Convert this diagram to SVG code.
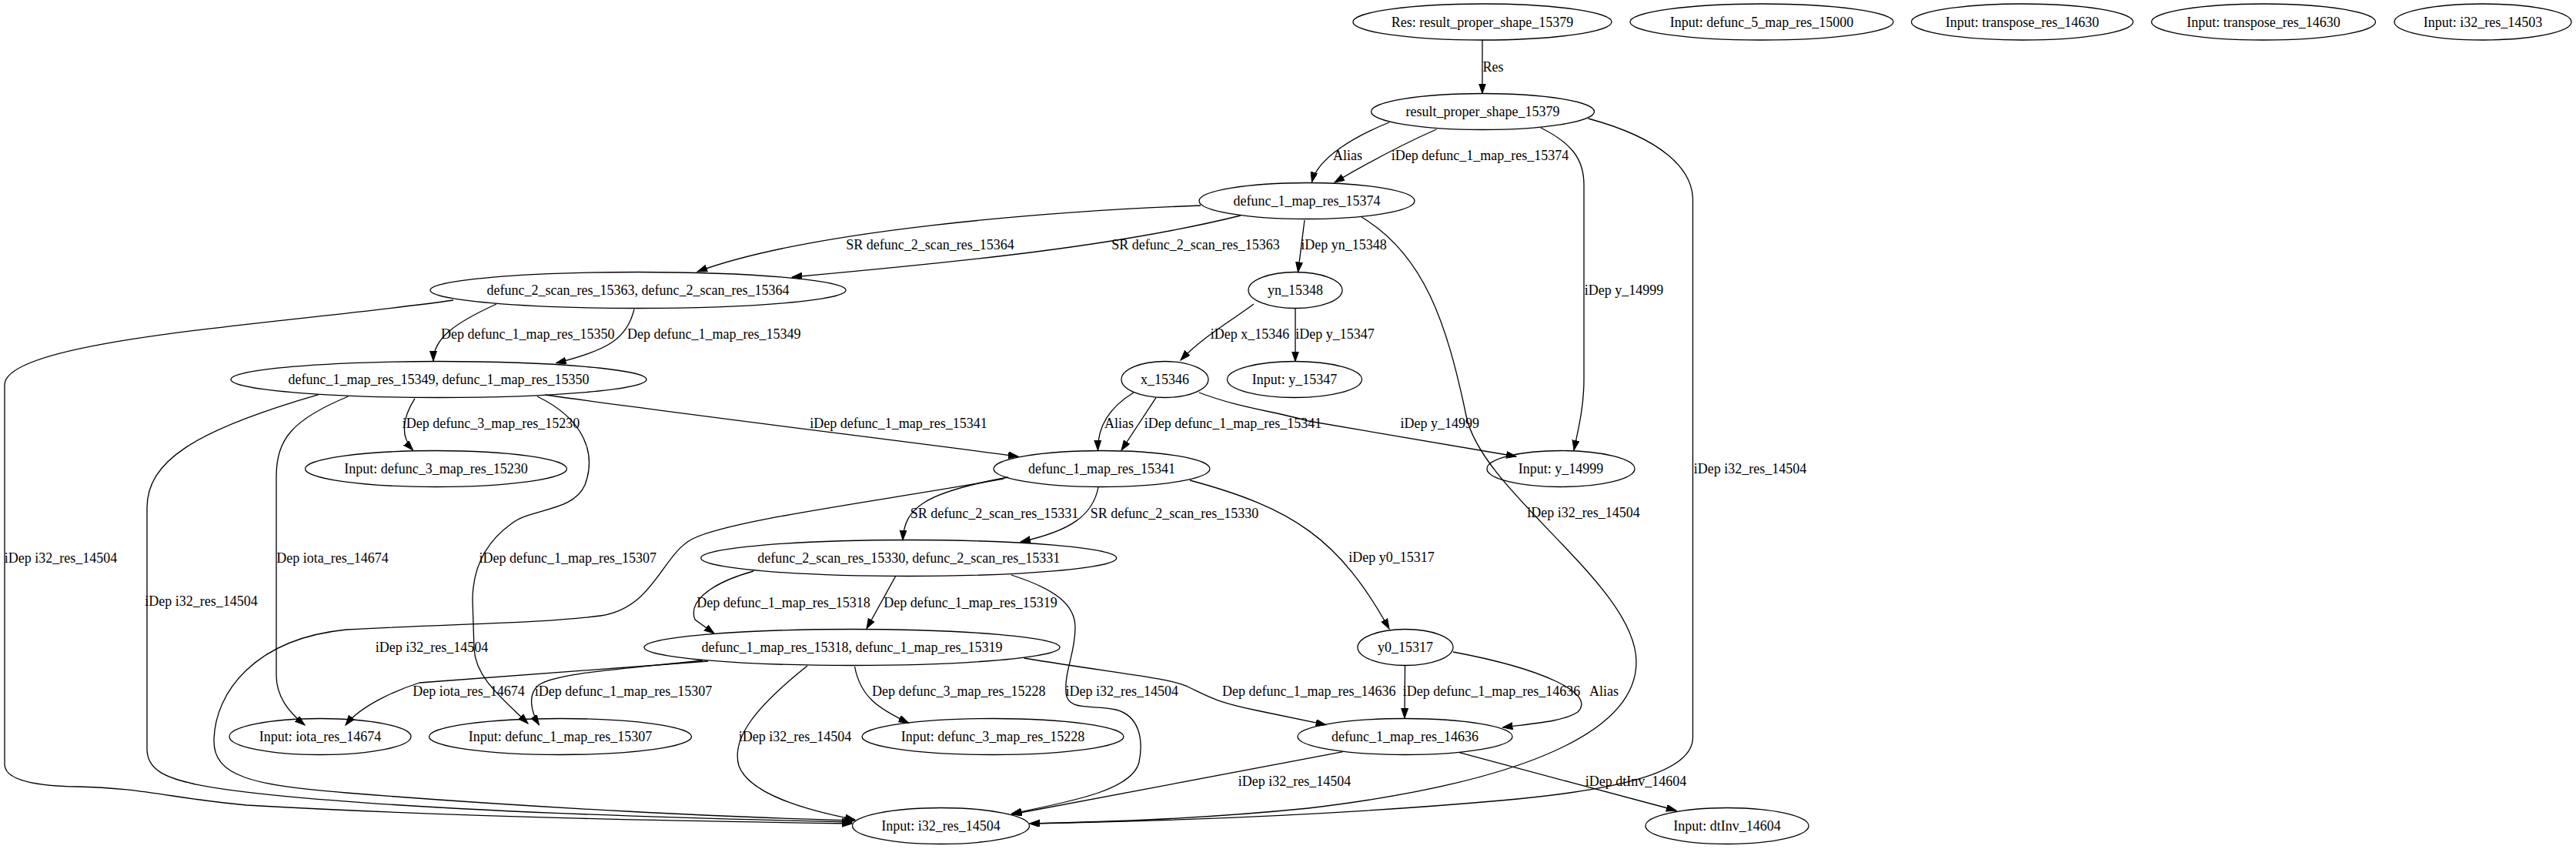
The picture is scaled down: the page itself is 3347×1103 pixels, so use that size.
<svg xmlns="http://www.w3.org/2000/svg" width="3347" height="1103" viewBox="0 0 3347 1103">
<style>
text{font-family:"Liberation Serif","Times New Roman",serif;font-size:18px;fill:#000;text-anchor:middle}
.node ellipse{fill:none;stroke:#000;stroke-width:1.3}
.edge path{fill:none;stroke:#000;stroke-width:1.3;marker-end:url(#ah)}
</style>
<defs>
<marker id="ah" markerWidth="14" markerHeight="10" refX="13" refY="4.5" orient="auto" markerUnits="userSpaceOnUse"><path d="M0,0 L13,4.5 L0,9 z" fill="#000" stroke="#000" stroke-width="1"/></marker>
</defs>
<rect width="3347" height="1103" fill="#fff"/>
<g id="nodes">
<g id="n_res" class="node"><ellipse cx="1926" cy="28.5" rx="168" ry="23.5"/><text x="1926" y="34.5">Res: result_proper_shape_15379</text></g>
<g id="n_in15000" class="node"><ellipse cx="2289" cy="28.5" rx="171" ry="23.5"/><text x="2289" y="34.5">Input: defunc_5_map_res_15000</text></g>
<g id="n_tr1" class="node"><ellipse cx="2627.5" cy="28.5" rx="144" ry="23.5"/><text x="2627.5" y="34.5">Input: transpose_res_14630</text></g>
<g id="n_tr2" class="node"><ellipse cx="2941" cy="28.5" rx="145.5" ry="23.5"/><text x="2941" y="34.5">Input: transpose_res_14630</text></g>
<g id="n_i32_503" class="node"><ellipse cx="3226" cy="28.5" rx="115" ry="23.5"/><text x="3226" y="34.5">Input: i32_res_14503</text></g>
<g id="n_rps" class="node"><ellipse cx="1926.5" cy="145" rx="145" ry="23.5"/><text x="1926.5" y="151">result_proper_shape_15379</text></g>
<g id="n_d15374" class="node"><ellipse cx="1698" cy="261" rx="140" ry="23.5"/><text x="1698" y="267">defunc_1_map_res_15374</text></g>
<g id="n_scan15363" class="node"><ellipse cx="829" cy="377" rx="270" ry="23.5"/><text x="829" y="383">defunc_2_scan_res_15363, defunc_2_scan_res_15364</text></g>
<g id="n_yn" class="node"><ellipse cx="1683" cy="377" rx="61" ry="23.5"/><text x="1683" y="383">yn_15348</text></g>
<g id="n_x" class="node"><ellipse cx="1513.5" cy="493" rx="56.5" ry="23.5"/><text x="1513.5" y="499">x_15346</text></g>
<g id="n_y15347" class="node"><ellipse cx="1682" cy="493" rx="87.5" ry="23.5"/><text x="1682" y="499">Input: y_15347</text></g>
<g id="n_d15349" class="node"><ellipse cx="570" cy="493" rx="270" ry="23.5"/><text x="570" y="499">defunc_1_map_res_15349, defunc_1_map_res_15350</text></g>
<g id="n_in15230" class="node"><ellipse cx="566.5" cy="609" rx="170" ry="23.5"/><text x="566.5" y="615">Input: defunc_3_map_res_15230</text></g>
<g id="n_d15341" class="node"><ellipse cx="1431.5" cy="609" rx="140.5" ry="23.5"/><text x="1431.5" y="615">defunc_1_map_res_15341</text></g>
<g id="n_y14999" class="node"><ellipse cx="2028" cy="609" rx="96" ry="23.5"/><text x="2028" y="615">Input: y_14999</text></g>
<g id="n_scan15330" class="node"><ellipse cx="1180.7" cy="725" rx="270" ry="23.5"/><text x="1180.7" y="731">defunc_2_scan_res_15330, defunc_2_scan_res_15331</text></g>
<g id="n_d15318" class="node"><ellipse cx="1107" cy="841" rx="270" ry="23.5"/><text x="1107" y="847">defunc_1_map_res_15318, defunc_1_map_res_15319</text></g>
<g id="n_y0" class="node"><ellipse cx="1826" cy="841" rx="62" ry="23.5"/><text x="1826" y="847">y0_15317</text></g>
<g id="n_iota" class="node"><ellipse cx="416" cy="957" rx="118" ry="23.5"/><text x="416" y="963">Input: iota_res_14674</text></g>
<g id="n_in15307" class="node"><ellipse cx="728" cy="957" rx="170.5" ry="23.5"/><text x="728" y="963">Input: defunc_1_map_res_15307</text></g>
<g id="n_in15228" class="node"><ellipse cx="1290" cy="957" rx="170" ry="23.5"/><text x="1290" y="963">Input: defunc_3_map_res_15228</text></g>
<g id="n_d14636" class="node"><ellipse cx="1825.5" cy="957" rx="139.5" ry="23.5"/><text x="1825.5" y="963">defunc_1_map_res_14636</text></g>
<g id="n_i32" class="node"><ellipse cx="1222.5" cy="1073" rx="115" ry="23.5"/><text x="1222.5" y="1079">Input: i32_res_14504</text></g>
<g id="n_dtinv" class="node"><ellipse cx="2244" cy="1073" rx="106" ry="23.5"/><text x="2244" y="1079">Input: dtInv_14604</text></g>
</g>
<g id="edges">
<g class="edge"><path d="M1926,52 L1926,121.5"/><text x="1940" y="93">Res</text></g>
<g class="edge"><path d="M1805,159 C1760,177 1712,205 1704.5,236.5"/><text x="1751" y="208">Alias</text></g>
<g class="edge"><path d="M1866.5,168 C1830,184 1790,204 1734,237"/><text x="1923" y="208">iDep defunc_1_map_res_15374</text></g>
<g class="edge"><path d="M2002,166 C2040,185 2058,205 2058,240 L2058,493 C2058,530 2050,560 2045,585"/><text x="2110" y="383">iDep y_14999</text></g>
<g class="edge"><path d="M2063.6,154 C2160,180 2199.5,220 2199.5,260 L2199.5,958 C2199.5,1000 2120,1025 1950,1040 C1700,1062 1450,1068 1338,1070"/><text x="2274" y="614.5">iDep i32_res_14504</text></g>
<g class="edge"><path d="M1560,267 C1350,275 1050,300 906,353"/><text x="1208.5" y="324">SR defunc_2_scan_res_15364</text></g>
<g class="edge"><path d="M1612,280 C1450,320 1250,340 1029,360"/><text x="1553.5" y="324">SR defunc_2_scan_res_15363</text></g>
<g class="edge"><path d="M1695,286 L1686.5,353.5"/><text x="1746" y="324">iDep yn_15348</text></g>
<g class="edge"><path d="M1769,282 C1850,330 1880,420 1905,540 C1925,640 2126,760 2126,860 C2126,960 1950,1020 1700,1050 C1550,1065 1420,1068 1338,1070"/><text x="2057.5" y="672">iDep i32_res_14504</text></g>
<g class="edge"><path d="M1629,395 C1595,420 1560,440 1534,468"/><text x="1624" y="440">iDep x_15346</text></g>
<g class="edge"><path d="M1683,400.5 L1683,469.5"/><text x="1734.5" y="440">iDep y_15347</text></g>
<g class="edge"><path d="M645,395 C590,420 563,440 563,469"/><text x="685.7" y="440">Dep defunc_1_map_res_15350</text></g>
<g class="edge"><path d="M824,401.7 C815,440 790,455 722.6,471.7"/><text x="927.7" y="440">Dep defunc_1_map_res_15349</text></g>
<g class="edge"><path d="M589,390 C380,420 6,440 6,500 L6,993 C6,1012 40,1021 100,1022 C180,1023 230,1038 320,1046 C600,1062 900,1067 1107,1070"/><text x="79" y="731">iDep i32_res_14504</text></g>
<g class="edge"><path d="M1473,510 C1440,530 1426,555 1426.5,585"/><text x="1454" y="556">Alias</text></g>
<g class="edge"><path d="M1502,516.7 L1457,585"/><text x="1602" y="556">iDep defunc_1_map_res_15341</text></g>
<g class="edge"><path d="M1558,510 C1610,530 1660,535 1700,547 L1970,593"/><text x="1870.7" y="556">iDep y_14999</text></g>
<g class="edge"><path d="M708.5,513 C900,540 1150,570 1323,593"/><text x="1167.5" y="556">iDep defunc_1_map_res_15341</text></g>
<g class="edge"><path d="M539,517.7 C525,540 518,565 536.6,585"/><text x="638" y="556">iDep defunc_3_map_res_15230</text></g>
<g class="edge"><path d="M452.5,515 C380,545 359,570 359,620 L359,877 C359,905 375,925 396,942"/><text x="432" y="731">Dep iota_res_14674</text></g>
<g class="edge"><path d="M698,515 C760,545 775,590 760,630 C745,665 690,660 665,680 C630,705 614,740 614,780 L616,843 C618,880 650,905 686,940"/><text x="737.7" y="731">iDep defunc_1_map_res_15307</text></g>
<g class="edge"><path d="M414,512.7 C250,560 191,600 191,660 L191,973 C191,1000 215,1010 250,1018 C300,1030 500,1055 1107,1068"/><text x="261.5" y="787">iDep i32_res_14504</text></g>
<g class="edge"><path d="M1310,620 C1200,640 1175,660 1173,701.7"/><text x="1292" y="672.7">SR defunc_2_scan_res_15331</text></g>
<g class="edge"><path d="M1427,633 C1420,670 1390,690 1326,704"/><text x="1526" y="672.7">SR defunc_2_scan_res_15330</text></g>
<g class="edge"><path d="M1546,624 C1680,660 1740,700 1805,817"/><text x="1808" y="730">iDep y0_15317</text></g>
<g class="edge"><path d="M1304,622 C1150,650 950,675 900,700 C860,720 850,790 780,800 C700,810 600,810 450,818 C330,830 280,900 278,960 C276,1010 330,1020 450,1030 C700,1050 950,1062 1110,1066"/><text x="561" y="846.7">iDep i32_res_14504</text></g>
<g class="edge"><path d="M979,742 C915,760 895,785 903,805 L928,823"/><text x="1018" y="788.7">Dep defunc_1_map_res_15318</text></g>
<g class="edge"><path d="M1163.8,748.3 L1126,816.7"/><text x="1261" y="788.7">Dep defunc_1_map_res_15319</text></g>
<g class="edge"><path d="M1314,747 C1370,765 1397,785 1397,815 C1397,850 1383,870 1385,900 C1387,925 1420,915 1450,922 C1480,930 1486,960 1480,990 C1472,1025 1400,1040 1314.5,1057"/><text x="1457.8" y="904.3">iDep i32_res_14504</text></g>
<g class="edge"><path d="M920,859 L545,887 C520,895 470,915 449,942"/><text x="609" y="904.3">Dep iota_res_14674</text></g>
<g class="edge"><path d="M913,858 C800,870 720,875 700,890 C685,902 690,925 700.4,941.7"/><text x="810" y="904.3">iDep defunc_1_map_res_15307</text></g>
<g class="edge"><path d="M1110.5,866 C1118,905 1140,920 1180.6,939.3"/><text x="1245.7" y="904.3">Dep defunc_3_map_res_15228</text></g>
<g class="edge"><path d="M1049,865 C980,920 950,960 960,995 C975,1035 1060,1055 1111,1065"/><text x="1033" y="962.7">iDep i32_res_14504</text></g>
<g class="edge"><path d="M1330.5,855 C1450,875 1520,880 1545,893 C1570,905 1580,912 1633,923 L1722.7,941.7"/><text x="1700.8" y="904.3">Dep defunc_1_map_res_14636</text></g>
<g class="edge"><path d="M1825.5,865 L1825,933"/><text x="1938" y="904">iDep defunc_1_map_res_14636</text></g>
<g class="edge"><path d="M1888,847 C2000,868 2075,900 2050,925 C2030,938 1990,940 1952.4,945"/><text x="2084" y="904">Alias</text></g>
<g class="edge"><path d="M1745,976.7 L1314.5,1058"/><text x="1682" y="1021">iDep i32_res_14504</text></g>
<g class="edge"><path d="M1896,977.7 L2178,1053"/><text x="2125.5" y="1021">iDep dtInv_14604</text></g>
</g>
</svg>
